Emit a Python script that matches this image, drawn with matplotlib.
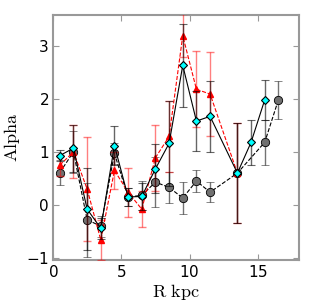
import numpy as np
import matplotlib
matplotlib.use("Agg")
import matplotlib.pyplot as plt

plt.rcParams['mathtext.fontset'] = 'cm'
plt.rcParams['axes.formatter.use_mathtext'] = True

# cyan diamonds, solid line
r_c = [0.5, 1.5, 2.5, 3.5, 4.5, 5.5, 6.5, 7.5, 8.5, 9.5, 10.5, 11.5, 13.5, 14.5, 15.5]
a_c = [0.93, 1.07, -0.08, -0.44, 1.12, 0.15, 0.16, 0.68, 1.16, 2.63, 1.58, 1.67, 0.60, 1.18, 1.98]
e_c = [0.10, 0.44, 0.77, 0.20, 0.37, 0.17, 0.25, 0.46, 0.80, 0.78, 0.56, 0.67, 0.95, 0.42, 0.38]

# red triangles, dashed red line
r_r = [0.5, 1.5, 2.5, 3.5, 4.5, 5.5, 6.5, 7.5, 8.5, 9.5, 10.5, 11.5, 13.5]
a_r = [0.75, 1.00, 0.30, -0.66, 0.65, 0.24, -0.08, 0.89, 1.29, 3.19, 2.18, 2.09, 0.60]
e_r = [0.20, 0.50, 0.98, 0.37, 0.35, 0.46, 0.34, 0.62, 0.67, 0.40, 0.72, 0.79, 0.95]

# grey circles, dashed black line
r_g = [0.5, 1.5, 2.5, 3.5, 4.5, 5.5, 6.5, 7.5, 8.5, 9.5, 10.5, 11.5, 13.5, 15.5, 16.5]
a_g = [0.61, 1.00, -0.28, -0.40, 0.97, 0.15, 0.18, 0.43, 0.33, 0.13, 0.45, 0.24, 0.60, 1.18, 1.98]
e_g = [0.23, 0.40, 0.70, 0.20, 0.20, 0.17, 0.28, 0.47, 0.30, 0.30, 0.20, 0.19, 0.95, 0.42, 0.36]

fig = plt.figure(figsize=(3.27, 3.06), dpi=100)
ax = fig.add_axes([0.162, 0.150, 0.752, 0.801])

ax.errorbar(r_g, a_g, yerr=e_g, fmt='o--', color='k', lw=0.8, ms=6,
            mfc='#707070', mec='k', mew=0.6, ecolor=(0, 0, 0, 0.55),
            elinewidth=1.0, capsize=3, zorder=2)
ax.errorbar(r_r, a_r, yerr=e_r, fmt='^--', color='red', lw=0.8, ms=5,
            mfc='red', mec='red', ecolor=(1, 0, 0, 0.5),
            elinewidth=1.0, capsize=3, zorder=3)
ax.errorbar(r_c, a_c, yerr=e_c, fmt='D-', color='k', lw=0.8, ms=4,
            mfc='cyan', mec='k', mew=0.8, ecolor=(0, 0, 0, 0.6),
            elinewidth=1.0, capsize=3, zorder=4)

ax.set_xlim(0, 18)
ax.set_ylim(-1.04, 3.58)
ax.set_xticks([0, 5, 10, 15])
ax.set_yticks([-1, 0, 1, 2, 3])
ax.tick_params(direction='in', top=True, right=True, length=4,
               color='#999999', labelsize=11, pad=3)
for s in ax.spines.values():
    s.set_color('#999999')
    s.set_linewidth(1.5)

ax.set_xlabel(r'$\mathrm{R\ kpc}$', fontsize=13, labelpad=1)
ax.set_ylabel(r'$\mathrm{Alpha}$', fontsize=13, labelpad=3)

fig.savefig('out.png', dpi=100)
